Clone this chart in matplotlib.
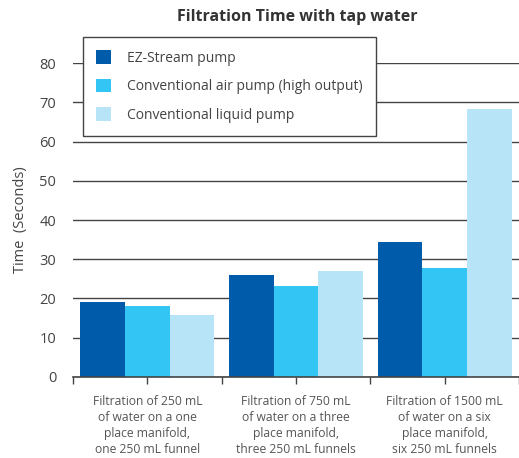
import numpy as np
import matplotlib.pyplot as plt

categories = [
    "Filtration of 250 mL\nof water on a one\nplace manifold,\none 250 mL funnel",
    "Filtration of 750 mL\nof water on a three\nplace manifold,\nthree 250 mL funnels",
    "Filtration of 1500 mL\nof water on a six\nplace manifold,\nsix 250 mL funnels",
]
series_names = ["EZ-Stream pump", "Conventional air pump (high output)", "Conventional liquid pump"]
ez_stream = [19.2, 26.0, 34.5]
air_pump = [18.2, 23.3, 27.7]
liquid_pump = [15.9, 27.0, 68.4]
colors = ["#005bab", "#33c5f3", "#b8e4f8"]
y_ticks = [0, 10, 20, 30, 40, 50, 60, 70, 80]

plt.rcParams['font.family'] = ['Open Sans', 'DejaVu Sans']

fig = plt.figure(figsize=(5.19, 4.58), dpi=100)
ax = fig.add_axes([0.1407, 0.1769, 0.8593, 0.6855])

x = np.arange(len(categories))
w = 0.3
bars = []
for i, (vals, name) in enumerate(zip([ez_stream, air_pump, liquid_pump], series_names)):
    b = ax.bar(x + (i - 1) * w, vals, width=w, color=colors[i], label=name, zorder=3)
    bars.append(b)

ax.set_ylim(0, 80)
ax.set_xlim(-0.5, 2.47)
ax.set_yticks(y_ticks)
ax.yaxis.grid(True, color="#444444", linewidth=1.0, zorder=0)
ax.set_axisbelow(True)
for s in ["left", "right", "top"]:
    ax.spines[s].set_visible(False)
ax.spines["bottom"].set_color("#444444")
ax.spines["bottom"].set_linewidth(1.2)
ax.spines["bottom"].set_zorder(4)

ax.set_xticks(x)
ax.set_xticklabels(categories, fontsize=8.7, color="#555555", linespacing=1.3)
ax.set_xticks(np.arange(-0.5, 2.6, 1.0), minor=True)
ax.tick_params(axis="x", which="both", length=5, width=1, color="#444444", direction="out", pad=8)
ax.tick_params(axis="y", length=0, pad=12, labelsize=10.5, labelcolor="#444444")

ax.set_ylabel("Time  (Seconds)", fontsize=10.5, color="#444444", labelpad=8)

fig.text(0.572, 0.962, "Filtration Time with tap water", ha="center", va="center",
         fontsize=11.5, fontweight="bold", color="#333333")

leg = fig.legend(handles=bars, labels=series_names, loc="upper left",
                 bbox_to_anchor=(83 / 519, 1 - 37 / 458), borderaxespad=0, fontsize=10,
                 frameon=True, fancybox=False, edgecolor="#444444",
                 handlelength=1.1, handleheight=1.1, labelspacing=0.95,
                 borderpad=0.95, handletextpad=1.1, labelcolor="#444444")
leg.get_frame().set_linewidth(1.0)
leg.get_frame().set_alpha(1.0)

fig.savefig("out.png", dpi=100)
